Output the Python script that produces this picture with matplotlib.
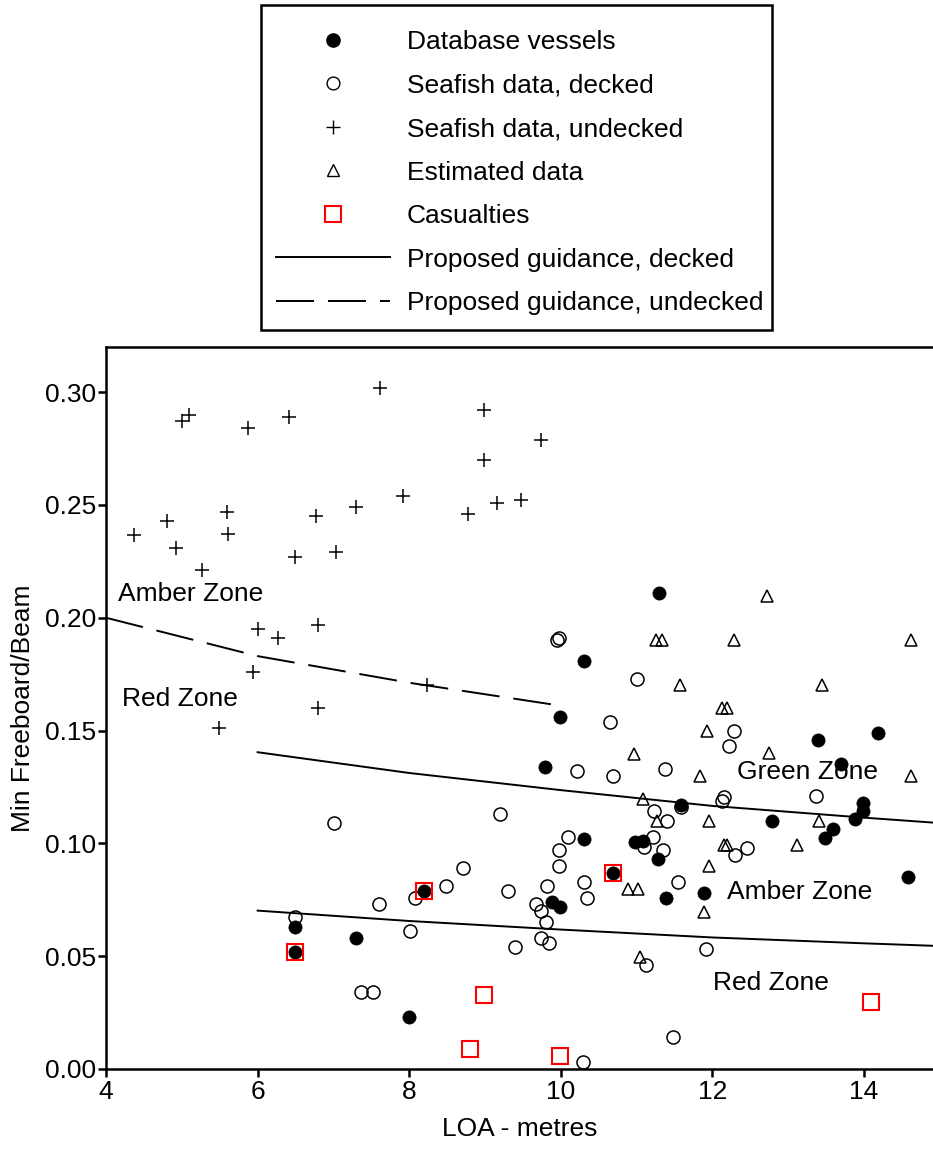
import matplotlib
matplotlib.use("Agg")
import matplotlib.pyplot as plt
from matplotlib.lines import Line2D
from matplotlib.patches import Rectangle

plt.rcParams['font.family'] = ['Liberation Sans', 'DejaVu Sans']
plt.rcParams['lines.scale_dashes'] = False

# ---- data ----
db_x = [6.49, 6.49, 7.30, 8.00, 8.20, 9.79, 9.89, 9.99, 9.99, 10.30, 10.30, 10.69, 10.98, 11.09,
        11.29, 11.28, 11.39, 11.59, 11.89, 12.79, 13.39, 13.49, 13.59, 13.69, 13.88, 13.98, 13.99,
        14.19, 14.58]
db_y = [0.063, 0.052, 0.058, 0.023, 0.079, 0.134, 0.074, 0.0717, 0.156, 0.181, 0.102, 0.087, 0.1004,
        0.1012, 0.211, 0.093, 0.076, 0.117, 0.078, 0.110, 0.146, 0.1024, 0.1063, 0.135, 0.111, 0.118,
        0.1145, 0.149, 0.085]

dk_x = [6.49, 7.01, 7.36, 7.52, 7.60, 8.01, 8.08, 8.48, 8.71, 9.20, 9.30, 9.39, 9.67, 9.74, 9.74,
        9.80, 9.82, 9.84, 9.95, 9.98, 9.97, 9.97, 10.09, 10.22, 10.29, 10.31, 10.35, 10.65, 10.69,
        11.00, 11.10, 11.12, 11.21, 11.23, 11.35, 11.37, 11.40, 11.48, 11.54, 11.58, 11.91, 12.13,
        12.15, 12.22, 12.29, 12.30, 12.45, 13.36]
dk_y = [0.0673, 0.109, 0.034, 0.034, 0.073, 0.061, 0.076, 0.081, 0.089, 0.113, 0.079, 0.054, 0.073,
        0.070, 0.058, 0.065, 0.081, 0.056, 0.190, 0.191, 0.097, 0.090, 0.103, 0.132, 0.003, 0.083,
        0.076, 0.154, 0.130, 0.173, 0.0986, 0.046, 0.103, 0.1145, 0.097, 0.133, 0.110, 0.014, 0.083,
        0.116, 0.053, 0.1186, 0.1205, 0.143, 0.150, 0.095, 0.098, 0.121]

ud_x = [4.37, 4.80, 4.92, 5.00, 5.09, 5.26, 5.49, 5.60, 5.61, 5.87, 5.94, 6.01, 6.27, 6.41, 6.49,
        6.77, 6.80, 6.80, 7.03, 7.30, 7.61, 7.92, 8.23, 8.77, 8.99, 8.99, 9.16, 9.48, 9.74]
ud_y = [0.2366, 0.243, 0.231, 0.287, 0.290, 0.221, 0.151, 0.247, 0.237, 0.284, 0.176, 0.195, 0.191,
        0.289, 0.227, 0.245, 0.197, 0.160, 0.229, 0.249, 0.302, 0.254, 0.170, 0.246, 0.292, 0.270,
        0.251, 0.252, 0.279]

est_x = [10.89, 10.97, 11.02, 11.04, 11.08, 11.26, 11.34, 11.27, 11.57, 11.84, 11.89, 11.93, 11.95,
         11.95, 12.13, 12.19, 12.15, 12.19, 12.29, 12.72, 12.75, 13.11, 13.40, 13.44, 14.62, 14.62]
est_y = [0.0797, 0.1396, 0.0797, 0.0498, 0.1197, 0.190, 0.190, 0.1097, 0.170, 0.1297, 0.0698, 0.1497,
         0.1097, 0.0898, 0.160, 0.160, 0.0994, 0.0994, 0.190, 0.2098, 0.140, 0.0994, 0.110, 0.170,
         0.190, 0.1297]

cas_x = [6.49, 8.20, 8.80, 8.99, 9.99, 10.69, 14.09]
cas_y = [0.052, 0.079, 0.0087, 0.0328, 0.0058, 0.087, 0.0299]

guide_x = [6, 8, 10, 12, 14, 15]
guide_upper = [0.1404, 0.1312, 0.1236, 0.1166, 0.1114, 0.1090]
guide_lower = [0.0702, 0.0656, 0.0618, 0.0583, 0.0557, 0.0545]

undk_x = [4, 6, 8, 10]
undk_y = [0.2000, 0.1830, 0.1712, 0.1610]

labels = ["Database vessels", "Seafish data, decked", "Seafish data, undecked",
          "Estimated data", "Casualties", "Proposed guidance, decked",
          "Proposed guidance, undecked"]

# ---- figure ----
W, H = 933, 1152
fig = plt.figure(figsize=(W / 100, H / 100), dpi=100)
ax = fig.add_axes([106 / W, 83 / H, 827 / W, 722 / H])

FS = 19
lw_line = 1.4
dash = (27.4, 10.0)

ax.plot(guide_x, guide_upper, color='black', lw=lw_line, zorder=2)
ax.plot(guide_x, guide_lower, color='black', lw=lw_line, zorder=2)
ax.plot(undk_x, undk_y, color='black', lw=lw_line, dashes=dash, zorder=2)

ax.plot(dk_x, dk_y, ls='none', marker='o', ms=9.4, mfc='none', mec='black', mew=1.1, zorder=3)
ax.plot(ud_x, ud_y, ls='none', marker='+', ms=10, mec='black', mew=1.1, zorder=3)
ax.plot(est_x, est_y, ls='none', marker='^', ms=9, mfc='none', mec='black', mew=1.1, zorder=3)
ax.plot(db_x, db_y, ls='none', marker='o', ms=9.5, mfc='black', mec='black', mew=0.5, zorder=4)
ax.plot(cas_x, cas_y, ls='none', marker='s', ms=11, mfc='none', mec='red', mew=1.5, zorder=5)

# zone labels
ax.text(4.16, 0.2104, "Amber Zone", fontsize=FS, ha='left', va='center', zorder=6)
ax.text(4.21, 0.1638, "Red Zone", fontsize=FS, ha='left', va='center', zorder=6)
ax.text(12.32, 0.1318, "Green Zone", fontsize=FS, ha='left', va='center', zorder=3.5)
ax.text(12.19, 0.0785, "Amber Zone", fontsize=FS, ha='left', va='center', zorder=6)
ax.text(12.01, 0.0381, "Red Zone", fontsize=FS, ha='left', va='center', zorder=6)

ax.set_xlim(4, 14.91)
ax.set_ylim(0, 0.32)
ax.set_xticks([4, 6, 8, 10, 12, 14])
ax.set_yticks([0.0, 0.05, 0.10, 0.15, 0.20, 0.25, 0.30])
ax.set_yticklabels([f"{v:.2f}" for v in [0.0, 0.05, 0.10, 0.15, 0.20, 0.25, 0.30]])
ax.tick_params(axis='both', direction='out', length=6, width=1.8, labelsize=FS, colors='black')
ax.tick_params(axis='y', pad=1)
ax.tick_params(axis='x', pad=2)
for s in ['left', 'bottom', 'top']:
    ax.spines[s].set_linewidth(1.8)
ax.spines['right'].set_visible(False)

ax.set_xlabel("LOA - metres", fontsize=FS, labelpad=9)
ax.set_ylabel("Min Freeboard/Beam", fontsize=FS, labelpad=7)

handles = [
    Line2D([], [], ls='none', marker='o', ms=9.5, mfc='black', mec='black'),
    Line2D([], [], ls='none', marker='o', ms=9.2, mfc='none', mec='black', mew=1.0),
    Line2D([], [], ls='none', marker='+', ms=10, mec='black', mew=1.0),
    Line2D([], [], ls='none', marker='^', ms=9, mfc='none', mec='black', mew=1.0),
    Line2D([], [], ls='none', marker='s', ms=11, mfc='none', mec='red', mew=1.5),
    Line2D([], [], color='black', lw=lw_line),
    Line2D([], [], color='black', lw=lw_line, dashes=dash),
]
leg = fig.legend(handles, labels, loc='upper left',
                 bbox_to_anchor=(276 / W, 1 - 30 / H), bbox_transform=fig.transFigure,
                 borderaxespad=0, fontsize=FS, frameon=False, borderpad=0,
                 labelspacing=0.74, handlelength=4.32, handletextpad=0.64, numpoints=1)

# legend frame drawn explicitly
fig.patches.append(Rectangle((261 / W, 1 - 330 / H), (772 - 261) / W, (330 - 5) / H,
                             transform=fig.transFigure, fill=False, edgecolor='black',
                             linewidth=1.8, zorder=0))

fig.savefig("out.png", dpi=100)
